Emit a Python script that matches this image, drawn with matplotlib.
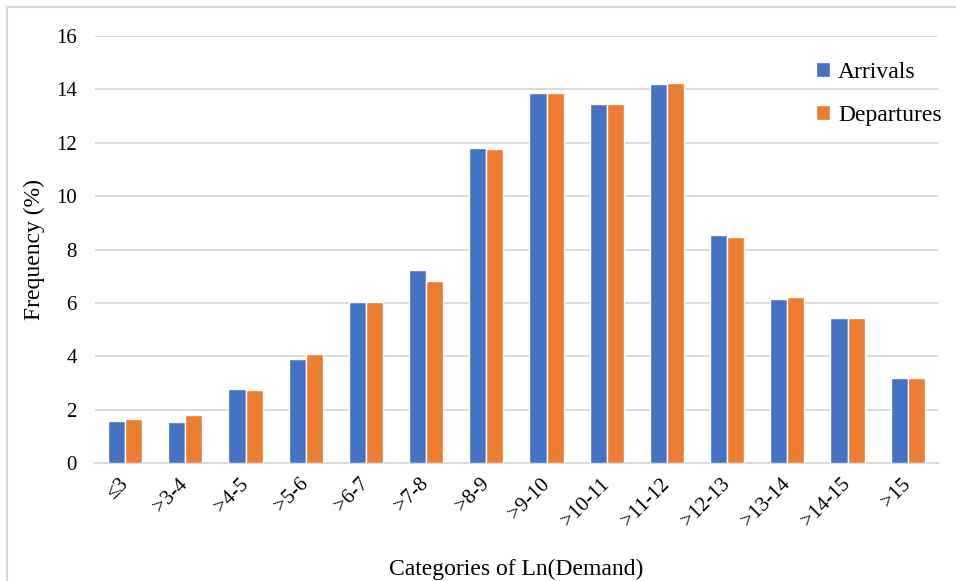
import numpy as np
import matplotlib.pyplot as plt
from matplotlib.patches import Rectangle

plt.rcParams['font.family'] = ['Liberation Serif', 'DejaVu Serif']

# 数据：各 Ln(需求) 区间的频率（%）
categories = ['≤3', '>3-4', '>4-5', '>5-6', '>6-7', '>7-8', '>8-9', '>9-10',
              '>10-11', '>11-12', '>12-13', '>13-14', '>14-15', '>15']
arrivals = [1.58, 1.56, 2.78, 3.92, 6.04, 7.24, 11.82, 13.87,
            13.46, 14.19, 8.55, 6.15, 5.45, 3.18]
departures = [1.67, 1.81, 2.74, 4.09, 6.05, 6.83, 11.76, 13.88,
              13.44, 14.24, 8.49, 6.22, 5.43, 3.18]

fig = plt.figure(figsize=(9.56, 5.81), dpi=100)
ax = fig.add_axes([0.0994, 0.2026, 0.8816, 0.7354])

# 外边框
fig.patches.append(Rectangle((7 / 956, -0.1), 1.2, 1 - 7 / 581 + 0.1,
                             transform=fig.transFigure, fill=False,
                             edgecolor='#d9d9d9', linewidth=1.5))

x = np.arange(len(categories))
w = 0.285
ax.bar(x - w / 2, arrivals, w, color='#4472C4', edgecolor='white',
       linewidth=1.0, label='Arrivals', zorder=3)
ax.bar(x + w / 2, departures, w, color='#ED7D31', edgecolor='white',
       linewidth=1.0, label='Departures', zorder=3)

ax.set_xlim(-0.5, len(categories) - 0.5)
ax.set_ylim(0, 16)
ax.set_yticks(range(0, 17, 2))
ax.grid(axis='y', color='#d9d9d9', linewidth=1.4, zorder=0)
for s in ['top', 'right', 'left']:
    ax.spines[s].set_visible(False)
ax.spines['bottom'].set_color('#d9d9d9')
ax.spines['bottom'].set_linewidth(1.4)
ax.tick_params(axis='both', length=0, labelsize=15)
ax.tick_params(axis='y', pad=13)
ax.tick_params(axis='x', pad=13)

ax.set_xticks(x)
ax.set_xticklabels(categories, rotation=45, ha='right', va='center',
                   rotation_mode='anchor')

ax.set_ylabel('Frequency (%)', fontsize=17, labelpad=8)
ax.set_xlabel('Categories of Ln(Demand)', fontsize=17, labelpad=20)

ax.legend(loc='upper left', bbox_to_anchor=(0.83, 0.99), frameon=False,
          fontsize=17, handlelength=0.6, handleheight=0.6,
          handletextpad=0.35, labelspacing=0.95)

plt.savefig('out.png', dpi=100)
